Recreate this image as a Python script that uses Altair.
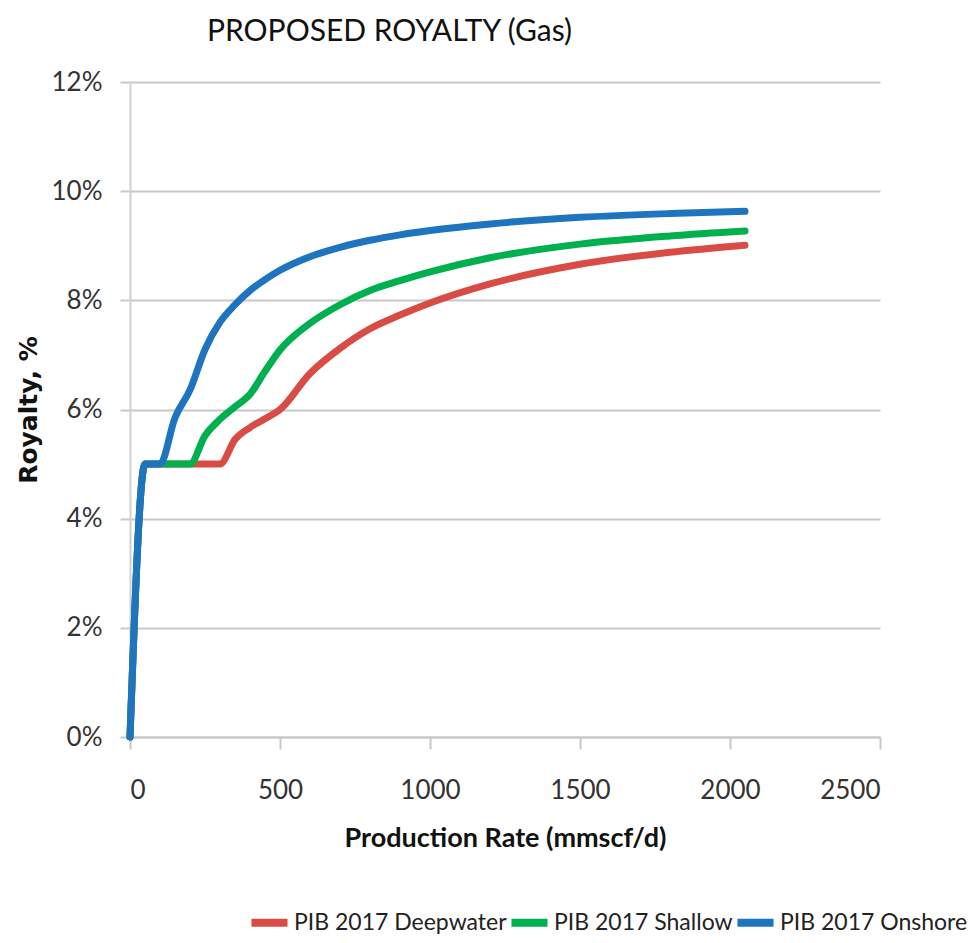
import altair as alt
import pandas as pd

# Production rate (mmscf/d) and royalty (%)
series_names = ["PIB 2017 Deepwater", "PIB 2017 Shallow", "PIB 2017 Onshore"]
series_colors = ["#D94C46", "#00B04F", "#1E74BE"]

rate_x = [0, 50, 100, 150, 200, 250, 300, 350, 400, 450, 500, 600, 700, 800, 900,
          1000, 1200, 1500, 1800, 2050]

deep_y = [0, 5.0, 5.0, 5.0, 5.0, 5.0, 5.0, 5.45, 5.67, 5.83, 6.0, 6.66, 7.12, 7.48, 7.73,
          7.95, 8.3, 8.66, 8.88, 9.01]
shallow_y = [0, 5.0, 5.0, 5.0, 5.0, 5.52, 5.82, 6.05, 6.28, 6.7, 7.09, 7.58, 7.92, 8.18, 8.36,
             8.52, 8.78, 9.03, 9.18, 9.27]
onshore_y = [0, 5.0, 5.0, 5.85, 6.36, 7.1, 7.6, 7.92, 8.18, 8.38, 8.55, 8.8, 8.97, 9.1, 9.2,
             9.28, 9.4, 9.52, 9.59, 9.63]

x_ticks = [0, 500, 1000, 1500, 2000, 2500]
y_ticks = [0, 2, 4, 6, 8, 10, 12]

rows = []
for order, (name, ys) in enumerate(zip(series_names, [deep_y, shallow_y, onshore_y])):
    for xv, yv in zip(rate_x, ys):
        rows.append({"series": name, "rate": xv, "royalty": yv, "ord": order})
df = pd.DataFrame(rows)

FONT = "Lato"

chart = alt.Chart(df).mark_line(
    strokeWidth=7, interpolate="monotone", strokeCap="round", strokeJoin="round"
).encode(
    x=alt.X("rate:Q",
            scale=alt.Scale(domain=[0, 2500], nice=False),
            axis=alt.Axis(values=x_ticks, format="d", title="Production Rate (mmscf/d)",
                          grid=False,
                          tickSize=12, tickColor="#c8c8c8", tickWidth=2,
                          domainColor="#c8c8c8", domainWidth=2,
                          labelPadding=28, labelFontSize=26, labelColor="#333333",
                          labelFont=FONT, titleFont=FONT, titleFontSize=27,
                          titleFontWeight="bold", titleColor="#111111", titlePadding=22)),
    y=alt.Y("royalty:Q",
            scale=alt.Scale(domain=[0, 12], nice=False),
            axis=alt.Axis(values=y_ticks, labelExpr="datum.value + '%'",
                          title="Royalty, %", grid=True, gridColor="#c8c8c8", gridWidth=2,
                          tickSize=10, tickColor="#c8c8c8", tickWidth=2,
                          domainColor="#d0d0d0", domainWidth=2,
                          labelPadding=18, labelFontSize=26, labelColor="#333333",
                          labelFont=FONT, titleFont="DejaVu Sans", titleFontSize=25,
                          titleFontWeight="bold", titleColor="#111111",
                          titleX=-102, titleBaseline="middle")),
    color=alt.Color("series:N",
                    scale=alt.Scale(domain=series_names, range=series_colors),
                    legend=alt.Legend(orient="none", legendX=117, legendY=818,
                                      direction="horizontal", title=None,
                                      symbolType="stroke", symbolStrokeWidth=8,
                                      symbolSize=1300, labelFontSize=23, labelLimit=0,
                                      labelFont=FONT, labelColor="#222222",
                                      labelOffset=2, columnPadding=-14)),
    order=alt.Order("ord:Q"),
).properties(
    width=750,
    height=655,
    autosize=alt.AutoSizeParams(type="none"),
    padding={"left": 122, "top": 74, "right": 89, "bottom": 198},
    title=alt.TitleParams("PROPOSED ROYALTY (Gas)", anchor="start", frame="group",
                          dx=77, offset=22, fontSize=30, font=FONT,
                          fontWeight="normal", color="#111111"),
).configure_view(stroke=None)

chart.save("out.html", embed_options={"renderer": "svg", "actions": False})
